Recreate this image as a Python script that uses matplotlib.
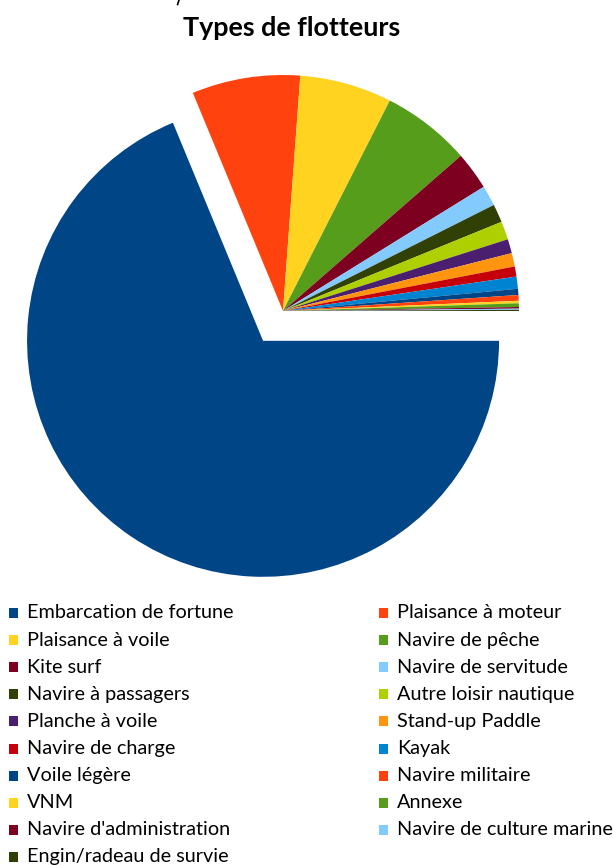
import matplotlib.pyplot as plt
from matplotlib.patches import Rectangle
from matplotlib.lines import Line2D

# part de chaque type de flotteur (%)
types = ["Embarcation de fortune", "Plaisance à moteur", "Plaisance à voile", "Navire de pêche",
         "Kite surf", "Navire de servitude", "Navire à passagers", "Autre loisir nautique",
         "Planche à voile", "Stand-up Paddle", "Navire de charge", "Kayak",
         "Voile légère", "Navire militaire", "VNM", "Annexe",
         "Navire d'administration", "Navire de culture marine", "Engin/radeau de survie"]
valeurs = [68.7, 7.4, 6.3, 6.1, 2.6, 1.4, 1.25, 1.25, 0.97, 0.92, 0.69, 0.83,
           0.42, 0.39, 0.17, 0.25, 0.11, 0.08, 0.08]

palette = ["#004586", "#ff420e", "#ffd320", "#579d1c", "#7e0021", "#83caff",
           "#314004", "#aecf00", "#4b1f6f", "#ff950e", "#c5000b", "#0084d1"]
couleurs = [palette[i % len(palette)] for i in range(len(types))]

plt.rcParams['font.family'] = ['Lato', 'DejaVu Sans']

W, H = 613, 866
fig = plt.figure(figsize=(W / 100, H / 100), dpi=100)

# camembert : centre (283, 311) px, rayon 236 px
cx, cy, r = 283, 311, 236
ax = fig.add_axes([0, 0, 1, 1])
explode = [0.152] + [0] * (len(valeurs) - 1)
ax.pie(valeurs, colors=couleurs, startangle=0, counterclock=False, explode=explode,
       radius=1, wedgeprops=dict(linewidth=0))
ax.set_xlim(-cx / r, (W - cx) / r)
ax.set_ylim(-(H - cy) / r, cy / r)
ax.axis('off')

fig.text(292 / W, 1 - 28 / H, "Types de flotteurs", ha='center', va='center',
         fontsize=19.4, fontweight='bold')

# petit trait en haut
fig.add_artist(Line2D([179 / W, 177.6 / W], [1, 1 - 4.5 / H], color='black', lw=1.2))

# légende sur deux colonnes
for i, (lab, col) in enumerate(zip(types, couleurs)):
    ligne, colonne = divmod(i, 2)
    y = 613 + ligne * 27.1
    x0 = 9 if colonne == 0 else 379
    fig.add_artist(Rectangle((x0 / W, 1 - (y + 5) / H), 9 / W, 10 / H,
                             transform=fig.transFigure, color=col, lw=0))
    fig.text((x0 + 18) / W, 1 - y / H, lab, ha='left', va='center', fontsize=14.3)

fig.savefig("out.png", dpi=100)
